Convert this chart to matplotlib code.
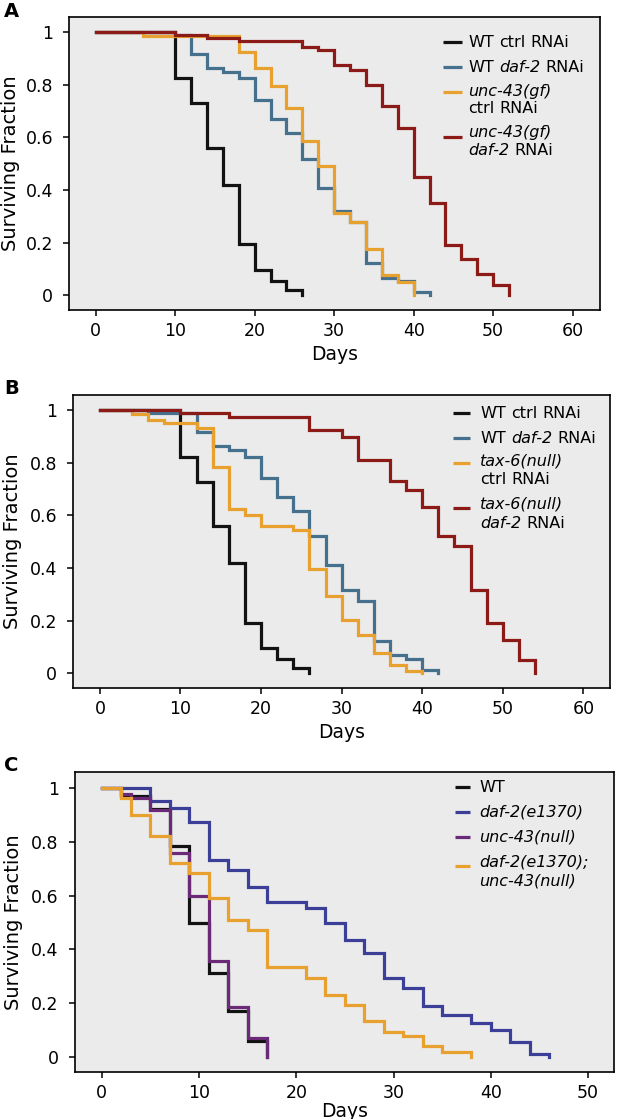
import numpy as np
import matplotlib
matplotlib.use("Agg")
import matplotlib.pyplot as plt

plt.rcParams['font.family'] = ['DejaVu Sans']

# ---- panel A ----
a_wt_t = [0, 10, 12, 14, 16, 18, 20, 22, 24, 26]
a_wt_s = [1, 0.827, 0.729, 0.558, 0.418, 0.194, 0.097, 0.053, 0.02, 0]
a_daf_t = [0, 10, 12, 14, 16, 18, 20, 22, 24, 26, 28, 30, 32, 34, 36, 38, 40, 42]
a_daf_s = [1, 0.99, 0.915, 0.862, 0.849, 0.824, 0.742, 0.67, 0.615, 0.519, 0.409,
           0.319, 0.277, 0.122, 0.067, 0.054, 0.013, 0]
a_unc_t = [0, 6, 18, 20, 22, 24, 26, 28, 30, 32, 34, 36, 38, 40]
a_unc_s = [1, 0.985, 0.925, 0.862, 0.796, 0.71, 0.587, 0.491, 0.311, 0.277, 0.176,
           0.076, 0.051, 0]
a_uncdaf_t = [0, 10, 14, 18, 26, 28, 30, 32, 34, 36, 38, 40, 42, 44, 46, 48, 50, 52]
a_uncdaf_s = [1, 0.99, 0.978, 0.967, 0.944, 0.932, 0.875, 0.856, 0.799, 0.719, 0.634,
              0.451, 0.349, 0.191, 0.138, 0.08, 0.037, 0]

# ---- panel B ----
b_wt_t = [0, 10, 12, 14, 16, 18, 20, 22, 24, 26]
b_wt_s = [1, 0.823, 0.728, 0.558, 0.419, 0.19, 0.096, 0.053, 0.02, 0]
b_daf_t = [0, 6, 12, 14, 16, 18, 20, 22, 24, 26, 28, 30, 32, 34, 36, 38, 40, 42]
b_daf_s = [1, 0.987, 0.915, 0.863, 0.849, 0.82, 0.741, 0.671, 0.617, 0.522, 0.412,
           0.316, 0.276, 0.121, 0.068, 0.055, 0.012, 0]
b_tax_t = [0, 4, 6, 8, 12, 14, 16, 18, 20, 24, 26, 28, 30, 32, 34, 36, 38, 40]
b_tax_s = [1, 0.985, 0.962, 0.952, 0.93, 0.785, 0.623, 0.602, 0.558, 0.545, 0.396,
           0.292, 0.204, 0.145, 0.077, 0.032, 0.01, 0]
b_taxdaf_t = [0, 10, 16, 26, 30, 32, 36, 38, 40, 42, 44, 46, 48, 50, 52, 54]
b_taxdaf_s = [1, 0.99, 0.975, 0.923, 0.899, 0.81, 0.731, 0.697, 0.633, 0.52, 0.482,
              0.317, 0.191, 0.128, 0.052, 0]

# ---- panel C ----
c_wt_t = [0, 2, 5, 7, 9, 11, 13, 15, 17]
c_wt_s = [1, 0.968, 0.922, 0.783, 0.499, 0.311, 0.173, 0.06, 0]
c_daf_t = [0, 5, 7, 9, 11, 13, 15, 17, 21, 23, 25, 27, 29, 31, 33, 35, 38, 40, 42, 44, 46]
c_daf_s = [1, 0.949, 0.925, 0.873, 0.731, 0.694, 0.63, 0.577, 0.552, 0.499, 0.435,
           0.385, 0.295, 0.256, 0.191, 0.156, 0.126, 0.101, 0.058, 0.012, 0]
c_unc_t = [0, 2, 3, 5, 7, 9, 11, 13, 15, 17]
c_unc_s = [1, 0.975, 0.96, 0.916, 0.758, 0.6, 0.358, 0.188, 0.073, 0]
c_dbl_t = [0, 2, 3, 5, 7, 9, 11, 13, 15, 17, 21, 23, 25, 27, 29, 31, 33, 35, 38]
c_dbl_s = [1, 0.963, 0.9, 0.821, 0.721, 0.685, 0.589, 0.509, 0.472, 0.333, 0.293,
           0.231, 0.194, 0.135, 0.095, 0.077, 0.04, 0.019, 0]

y_ticks = [0, 0.2, 0.4, 0.6, 0.8, 1]
y_tick_labels = ["0", "0.2", "0.4", "0.6", "0.8", "1"]

# legend entries: list of lines, each line a list of (text, italic) pieces
labels_a = [[[("WT", 0), ("ctrl", 0), ("RNAi", 0)]],
            [[("WT", 0), ("daf-2", 1), ("RNAi", 0)]],
            [[("unc-43(gf)", 1)], [("ctrl", 0), ("RNAi", 0)]],
            [[("unc-43(gf)", 1)], [("daf-2", 1), ("RNAi", 0)]]]
labels_b = [[[("WT", 0), ("ctrl", 0), ("RNAi", 0)]],
            [[("WT", 0), ("daf-2", 1), ("RNAi", 0)]],
            [[("tax-6(null)", 1)], [("ctrl", 0), ("RNAi", 0)]],
            [[("tax-6(null)", 1)], [("daf-2", 1), ("RNAi", 0)]]]
labels_c = [[[("WT", 0)]],
            [[("daf-2(e1370)", 1)]],
            [[("unc-43(null)", 1)]],
            [[("daf-2(e1370);", 1)], [("unc-43(null)", 1)]]]

BLACK = '#121212'
STEEL = '#45708e'
ORANGE = '#e8a02e'
DRED = '#8c1a16'
NAVY = '#3b3f98'
PURPLE = '#6a2a78'

LEG_FS = 11.5
SPACE_PT = 0.318 * LEG_FS


def put_line(ax, x, y, pieces):
    first = None
    prev = None
    for txt, ital in pieces:
        style = 'italic' if ital else 'normal'
        if prev is None:
            prev = ax.text(x, y, txt, transform=ax.transAxes, fontsize=LEG_FS,
                           style=style, va='baseline', ha='left')
        else:
            prev = ax.annotate(txt, xy=(1, 0), xycoords=prev, xytext=(SPACE_PT, 0),
                               textcoords='offset points', fontsize=LEG_FS,
                               style=style, va='bottom', ha='left')


def draw_panel(ax, curves, colors, xlim, xticks, legend, leg_x, text_x, leg_rows):
    ax.set_facecolor('#ebebeb')
    for (t, s), col in zip(curves, colors):
        ax.step(t, s, where='post', color=col, lw=2.3, solid_joinstyle='miter')
    ax.set_xlim(*xlim)
    ax.set_ylim(-0.056, 1.057)
    ax.set_xticks(xticks)
    ax.set_yticks(y_ticks)
    ax.set_yticklabels(y_tick_labels)
    ax.tick_params(direction='out', length=4.5, width=1.1, labelsize=12.5, pad=4)
    ax.tick_params(axis='y', pad=7)
    for sp in ax.spines.values():
        sp.set_color('black')
        sp.set_linewidth(1.2)
    ax.set_xlabel("Days", fontsize=13.5, labelpad=4)
    ax.set_ylabel("Surviving Fraction", fontsize=14, va='center')
    # legend drawn by hand: handle sits next to first text line
    for lab, col, (hy, ty) in zip(legend, colors, leg_rows):
        ax.plot(leg_x, [hy, hy], color=col, lw=2.3, transform=ax.transAxes,
                solid_capstyle='butt', clip_on=False)
        for k, line in enumerate(lab):
            # ty is the visual centre of the line; shift to baseline
            put_line(ax, text_x, ty[k] - 0.017, line)


fig = plt.figure(figsize=(6.17, 11.19), dpi=100)
fig.patch.set_facecolor('white')

ax1 = fig.add_axes([0.1123, 0.7230, 0.8596, 0.2618])
draw_panel(ax1,
           [(a_wt_t, a_wt_s), (a_daf_t, a_daf_s), (a_unc_t, a_unc_s), (a_uncdaf_t, a_uncdaf_s)],
           [BLACK, STEEL, ORANGE, DRED], (-3.32, 63.4), [0, 10, 20, 30, 40, 50, 60],
           labels_a, [0.705, 0.740], 0.752,
           [(0.916, [0.916]), (0.830, [0.830]), (0.744, [0.747, 0.689]),
            (0.591, [0.607, 0.546])])
ax1.yaxis.set_label_coords(-0.111, 0.5)

ax2 = fig.add_axes([0.1188, 0.3852, 0.8699, 0.2618])
draw_panel(ax2,
           [(b_wt_t, b_wt_s), (b_daf_t, b_daf_s), (b_tax_t, b_tax_s), (b_taxdaf_t, b_taxdaf_s)],
           [BLACK, STEEL, ORANGE, DRED], (-3.3, 63.3), [0, 10, 20, 30, 40, 50, 60],
           labels_b, [0.7075, 0.740], 0.7585,
           [(0.940, [0.940]), (0.852, [0.852]), (0.767, [0.776, 0.712]),
            (0.613, [0.630, 0.564])])
ax2.yaxis.set_label_coords(-0.114, 0.5)

ax3 = fig.add_axes([0.1211, 0.0417, 0.8746, 0.2681])
draw_panel(ax3,
           [(c_wt_t, c_wt_s), (c_daf_t, c_daf_s), (c_unc_t, c_unc_s), (c_dbl_t, c_dbl_s)],
           [BLACK, NAVY, PURPLE, ORANGE], (-2.78, 52.7), [0, 10, 20, 30, 40, 50],
           labels_c, [0.705, 0.733], 0.7493,
           [(0.952, [0.952]), (0.869, [0.869]), (0.785, [0.785]),
            (0.688, [0.702, 0.639])])
ax3.yaxis.set_label_coords(-0.114, 0.5)
ax3.xaxis.labelpad = 0

fig.text(0.007, 0.9893, "A", fontsize=14, fontweight='bold', va='center', ha='left')
fig.text(0.007, 0.6525, "B", fontsize=14, fontweight='bold', va='center', ha='left')
fig.text(0.007, 0.3155, "C", fontsize=14, fontweight='bold', va='center', ha='left')

fig.savefig("out.png", dpi=100)
